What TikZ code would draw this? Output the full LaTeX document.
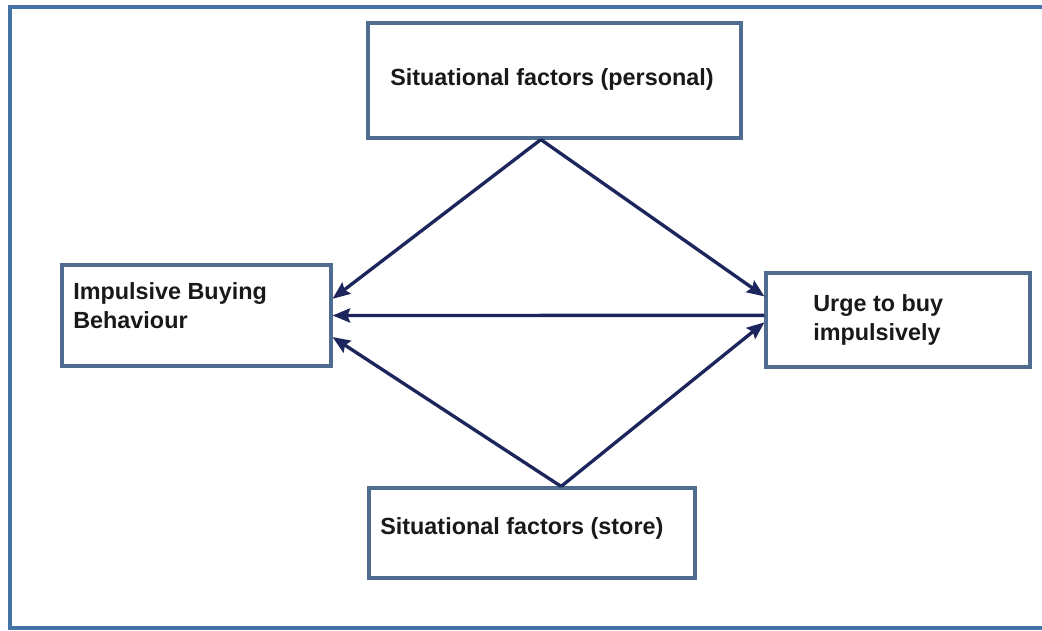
\documentclass[tikz,border=0pt]{standalone}
\usepackage{fontspec}
\setmainfont{Liberation Sans}
\usetikzlibrary{arrows.meta,shapes}
\definecolor{framec}{RGB}{70,115,165}
\definecolor{boxc}{RGB}{80,108,142}
\definecolor{arrc}{RGB}{28,38,92}

\begin{document}
\begin{tikzpicture}[
    x=0.02cm, y=-0.02cm,
    >={Stealth[length=10pt,width=8pt,inset=1.5pt]},
    box/.style = {draw=boxc, line width=1.8pt, fill=white, rectangle, inner sep=0pt},
    lbl/.style = {font=\fontsize{13.3}{16.6}\selectfont\bfseries, text=black!90,
      inner sep=0pt, align=left},
    link/.style = {->, draw=arrc, line width=1.9pt}
  ]
  \useasboundingbox (0,0) rectangle (1042,631);
  \draw[framec, line width=2.6pt] (1044,7) -- (10,7) -- (10,628) -- (1044,628);

  \node[box, minimum width=7.46cm, minimum height=2.3cm] (pers) at (554.5,80.5) {};
  \node[box, minimum width=5.38cm, minimum height=2.02cm] (ibb) at (196.5,315.5) {};
  \node[box, minimum width=5.28cm, minimum height=1.88cm] (urge) at (898,320) {};
  \node[box, minimum width=6.52cm, minimum height=1.8cm] (store) at (532,533) {};

  \node[lbl, anchor=base west] (perstxt) at (390,86) {Situational factors (personal)};
  \node[lbl, anchor=north west] (ibbtxt) at (73,282) {Impulsive Buying\\Behaviour};
  \node[lbl, anchor=north west] (urgetxt) at (813,294) {Urge to buy\\impulsively};
  \node[lbl, anchor=base west] (storetxt) at (380,535) {Situational factors (store)};

  \draw[link] (pers.257) -- (ibb.7);
  \draw[link] (pers.257) -- (urge.170.5);
  \draw[link] (urge.178) -- (ibb.east);
  \draw[link] (store.58) -- (ibb.-9.5);
  \draw[link] (store.58) -- (urge.181);

\end{tikzpicture}
\end{document}
